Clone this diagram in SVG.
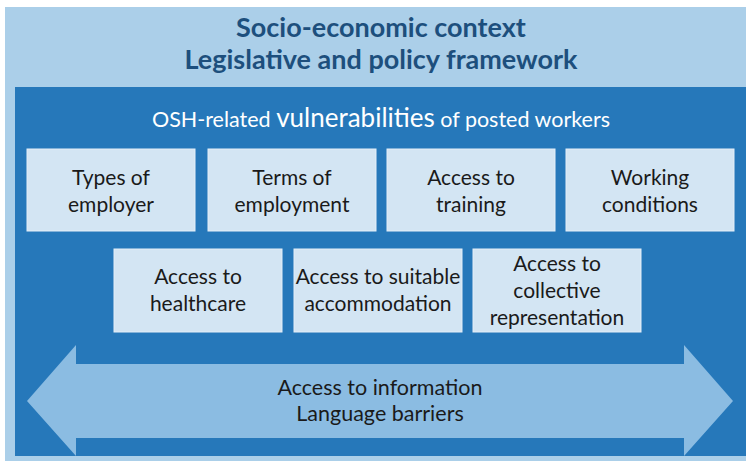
<svg xmlns="http://www.w3.org/2000/svg" width="746" height="461" viewBox="0 0 746 461">
  <style>
    .title { font-family: Lato, "Liberation Sans", sans-serif; font-weight: bold; font-size: 27px; fill: #1d4f7d; text-anchor: middle; }
    .sub { font-family: Lato, "Liberation Sans", sans-serif; font-size: 21.5px; fill: #ffffff; text-anchor: middle; }
    .box { fill: #d3e5f3; stroke: #e3eef8; stroke-width: 1; }
    .lbl { font-family: Lato, "Liberation Sans", sans-serif; font-size: 21px; fill: #1a1a1a; text-anchor: middle; }
    .arr { font-family: Lato, "Liberation Sans", sans-serif; font-size: 21.5px; fill: #1a1a1a; text-anchor: middle; }
  </style>

  <!-- outer context frame -->
  <rect x="5" y="7" width="741" height="454" fill="#abcfe9"/>
  <g id="context">
    <text class="title" x="381" y="37">Socio-economic context</text>
    <text class="title" x="381" y="69">Legislative and policy framework</text>
  </g>

  <!-- inner vulnerabilities panel -->
  <rect x="15" y="87" width="731" height="369" fill="#2678ba"/>
  <g id="vulnerabilities">
    <text class="sub" x="381" y="127">OSH-related <tspan font-size="26">vulnerabilities</tspan> of posted workers</text>
  </g>

  <!-- cross-cutting arrow -->
  <g id="connectors">
    <polygon id="access-arrow" points="27,401 76,345 76,364 684,364 684,345 733,401 684,456 684,438 76,438 76,456" fill="#8bbce2"/>
  </g>
  <g id="information">
    <text class="arr" x="380" y="395">Access to information</text>
    <text class="arr" x="380" y="421">Language barriers</text>
  </g>

  <!-- first row -->
  <g id="types-of-employer">
    <rect class="box" x="27" y="149" width="168" height="82"/>
    <text class="lbl" x="111" y="185">Types of</text>
    <text class="lbl" x="111" y="212">employer</text>
  </g>
  <g id="terms-of-employment">
    <rect class="box" x="208" y="149" width="168" height="82"/>
    <text class="lbl" x="292" y="185">Terms of</text>
    <text class="lbl" x="292" y="212">employment</text>
  </g>
  <g id="access-to-training">
    <rect class="box" x="387" y="149" width="168" height="82"/>
    <text class="lbl" x="471" y="185">Access to</text>
    <text class="lbl" x="471" y="212">training</text>
  </g>
  <g id="working-conditions">
    <rect class="box" x="566" y="149" width="168" height="82"/>
    <text class="lbl" x="650" y="185">Working</text>
    <text class="lbl" x="650" y="212">conditions</text>
  </g>

  <!-- second row -->
  <g id="access-to-healthcare">
    <rect class="box" x="114" y="249" width="168" height="83"/>
    <text class="lbl" x="198" y="284">Access to</text>
    <text class="lbl" x="198" y="311">healthcare</text>
  </g>
  <g id="access-to-accommodation">
    <rect class="box" x="294" y="249" width="168" height="83"/>
    <text class="lbl" x="378" y="284">Access to suitable</text>
    <text class="lbl" x="378" y="311">accommodation</text>
  </g>
  <g id="access-to-representation">
    <rect class="box" x="473" y="249" width="168" height="83"/>
    <text class="lbl" x="557" y="271">Access to</text>
    <text class="lbl" x="557" y="298">collective</text>
    <text class="lbl" x="557" y="325">representation</text>
  </g>
</svg>
